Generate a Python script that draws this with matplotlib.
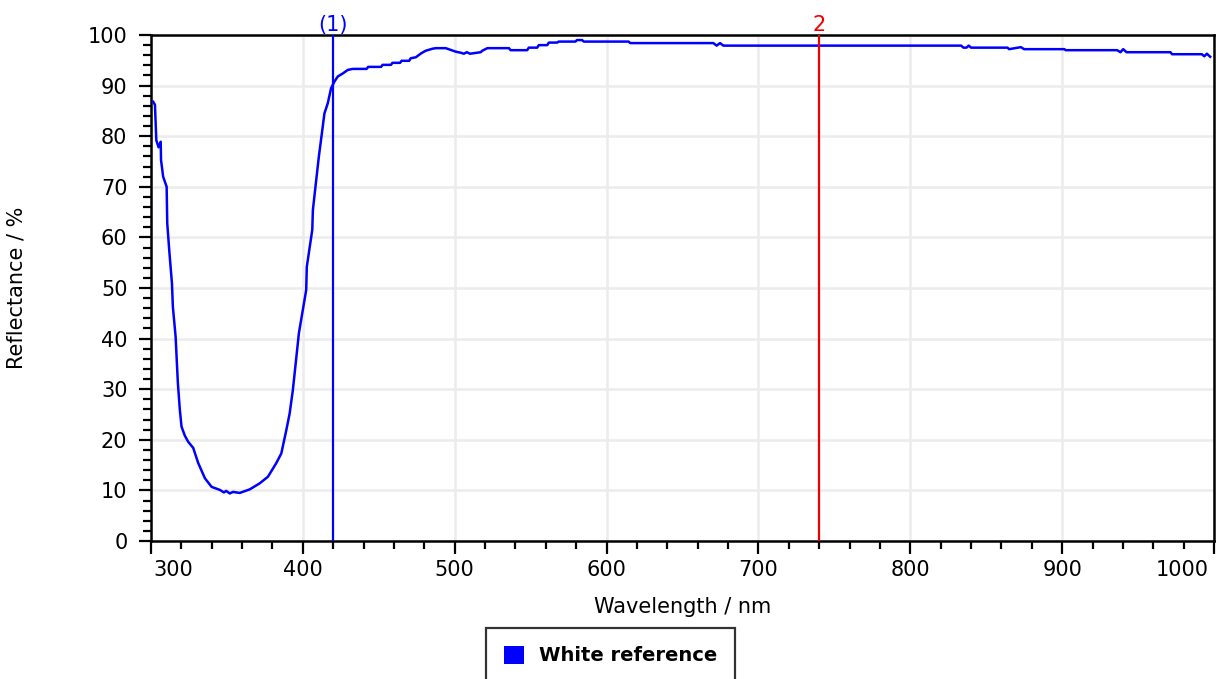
import matplotlib
matplotlib.use("Agg")
import matplotlib.pyplot as plt
from matplotlib.patches import Patch
from matplotlib.ticker import MultipleLocator
import matplotlib.transforms as mtransforms

# ---- data ----
wavelength = [301.5, 302.6, 303.5, 305.0, 306.4, 306.6, 308.0, 310.3, 310.7, 312.0,
              313.8, 314.4, 316.2, 317.7, 319.0, 320.1, 322.3, 324.5, 327.8, 331.1,
              335.5, 339.9, 345.3, 348.0, 349.5, 351.9, 354.0, 358.4, 365.0, 371.6,
              377.0, 382.5, 385.8, 389.1, 391.3, 393.4, 396.7, 397.4, 402.2, 402.6,
              406.2, 406.6, 408.3, 410.5, 413.1, 414.2, 416.4, 418.6, 420.8, 423.0,
              426.3, 429.6, 432.8, 442.0, 443.0, 451.5, 452.5, 458.0, 459.0, 464.0,
              465.0, 470.0, 471.0, 474.4, 478.0, 481.0, 485.5,
              487.6, 494.1, 500.7, 504.0, 506.0, 508.0, 510.0, 517.1, 518.2, 521.5,
              535.7, 536.8, 547.7, 548.8, 554.3, 555.4, 560.9, 562.0, 567.4, 568.5,
              579.5, 580.5, 583.8, 585.0, 614.5, 615.6, 670.3, 672.5, 674.7, 676.9,
              833.5, 835.0, 837.0, 838.5, 840.0, 864.0, 865.1, 872.8, 875.0, 901.5,
              902.3, 911.1, 912.2, 936.2, 938.4, 940.2, 942.4, 971.3, 972.4, 992.0,
              993.6, 995.3, 997.5]
reflectance = [86.8, 86.2, 79.2, 77.8, 78.9, 75.3, 72.0, 70.0, 62.8, 57.5,
               50.9, 46.3, 40.4, 31.2, 25.9, 22.6, 20.8, 19.6, 18.4, 15.4,
               12.4, 10.7, 10.1, 9.6, 9.9, 9.4, 9.7, 9.5, 10.2, 11.4,
               12.7, 15.4, 17.3, 21.9, 25.2, 29.8, 39.1, 41.1, 49.6, 54.2,
               61.5, 65.4, 70.0, 75.9, 81.9, 84.5, 86.5, 89.5, 90.8, 91.8,
               92.4, 93.1, 93.3, 93.3, 93.7, 93.7, 94.1, 94.1, 94.5, 94.5,
               94.9, 94.9, 95.4, 95.6, 96.4, 96.9, 97.3,
               97.4, 97.4, 96.7, 96.5, 96.3, 96.6, 96.3, 96.6, 96.9, 97.4,
               97.4, 97.0, 97.0, 97.5, 97.5, 98.0, 98.0, 98.5, 98.5, 98.7,
               98.7, 99.0, 99.0, 98.7, 98.7, 98.4, 98.4, 97.9, 98.4, 97.9,
               97.9, 97.5, 97.5, 97.9, 97.5, 97.5, 97.2, 97.6, 97.2, 97.2,
               97.0, 97.0, 97.0, 97.0, 96.6, 97.2, 96.6, 96.6, 96.2, 96.2,
               95.8, 96.3, 95.7]

marker_positions = [420, 740]
marker_labels = ["(1)", "2"]
marker_colors = ["#0000ff", "#ee0000"]

x_ticks = [300, 400, 500, 600, 700, 800, 900, 1000]
y_ticks = [0, 10, 20, 30, 40, 50, 60, 70, 80, 90, 100]
series_name = "White reference"

# ---- figure ----
plt.rcParams['font.family'] = ['DejaVu Sans']
fig = plt.figure(figsize=(12.16, 6.79), dpi=100)
ax = fig.add_axes([151/1216, 1-541/679, (1214-151)/1216, (541-35)/679])

ax.plot(wavelength, reflectance, color="#0000ff", lw=1.8, zorder=3)

for xm, lab, col in zip(marker_positions, marker_labels, marker_colors):
    ax.axvline(xm, color=col, lw=1.6, zorder=4)
    ax.text(xm, 100, lab, color=col, fontsize=15, ha='center', va='bottom',
            transform=ax.transData, clip_on=False)

ax.set_xlim(300, 1000)
ax.set_ylim(0, 100)
ax.set_xticks(x_ticks)
ax.set_yticks(y_ticks)
ax.xaxis.set_minor_locator(MultipleLocator(20))
ax.yaxis.set_minor_locator(MultipleLocator(2))

ax.grid(True, which='major', color="#ececec", lw=1.8, zorder=0)
ax.set_axisbelow(True)

for s in ax.spines.values():
    s.set_linewidth(1.8)
    s.set_color('black')

ax.tick_params(which='major', direction='out', length=9, width=1.6, labelsize=15, pad=5)
ax.tick_params(axis='y', which='major', pad=8)
ax.tick_params(which='minor', direction='out', length=5.5, width=1.6)

ax.set_xlabel("Wavelength / nm", fontsize=15, labelpad=12)
ax.set_ylabel("Reflectance / %", fontsize=15, labelpad=44)

fig.canvas.draw()
labels = ax.get_xticklabels()
off_r = mtransforms.ScaledTranslation(2/100, 0, fig.dpi_scale_trans)
off_l = mtransforms.ScaledTranslation(-5/100, 0, fig.dpi_scale_trans)
labels[0].set_horizontalalignment('left')
labels[0].set_transform(labels[0].get_transform() + off_r)
labels[-1].set_horizontalalignment('right')
labels[-1].set_transform(labels[-1].get_transform() + off_l)

handle = Patch(facecolor="#0000ff", edgecolor="none")
leg = fig.legend([handle], [series_name], loc='upper left',
                 bbox_to_anchor=(486/1216, 1-628/679),
                 frameon=True, fancybox=False, edgecolor='black',
                 prop={'weight': 'bold', 'size': 14},
                 handlelength=1.05, handleheight=1.05, handletextpad=0.8,
                 borderpad=0.9, borderaxespad=0)
leg.get_frame().set_linewidth(1.6)

fig.savefig("out.png", dpi=100)
